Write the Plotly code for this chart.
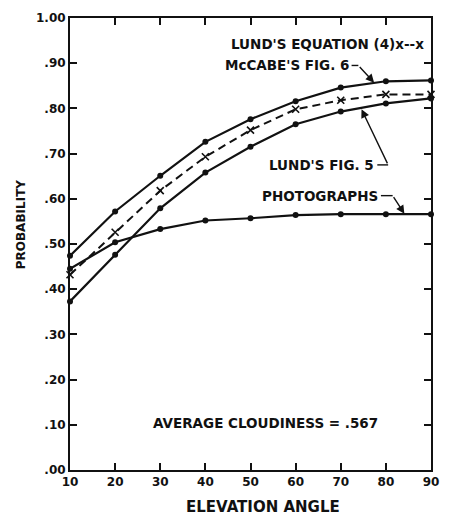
import plotly.graph_objects as go

# Data
elevation = [10, 20, 30, 40, 50, 60, 70, 80, 90]
mccabe_fig6 = [0.474, 0.572, 0.651, 0.726, 0.776, 0.816, 0.846, 0.860, 0.862]
lund_eq4 = [0.432, 0.526, 0.618, 0.693, 0.752, 0.798, 0.818, 0.831, 0.831]
lund_fig5 = [0.373, 0.476, 0.579, 0.658, 0.715, 0.765, 0.793, 0.811, 0.822]
photographs = [0.445, 0.504, 0.533, 0.552, 0.557, 0.564, 0.566, 0.566, 0.566]

x_ticks = [10, 20, 30, 40, 50, 60, 70, 80, 90]
y_ticks = [0.0, 0.1, 0.2, 0.3, 0.4, 0.5, 0.6, 0.7, 0.8, 0.9, 1.0]
y_ticktext = [".00", ".10", ".20", ".30", ".40", ".50", ".60", ".70", ".80", ".90", "1.00"]

FONT = "DejaVu Sans"
BLACK = "#111111"

fig = go.Figure()

def solid(name, ys):
    fig.add_trace(go.Scatter(
        x=elevation, y=ys, name=name, mode="lines+markers",
        line=dict(color=BLACK, width=2.2),
        marker=dict(symbol="circle", size=6, color=BLACK),
        cliponaxis=False, showlegend=False))

solid("McCABE'S FIG. 6", mccabe_fig6)
fig.add_trace(go.Scatter(
    x=elevation, y=lund_eq4, name="LUND'S EQUATION (4)", mode="lines+markers",
    line=dict(color=BLACK, width=2, dash="8px,5px"),
    marker=dict(symbol="x-thin", size=7, color=BLACK, line=dict(width=1.6, color=BLACK)),
    cliponaxis=False, showlegend=False))
solid("LUND'S FIG. 5", lund_fig5)
solid("PHOTOGRAPHS", photographs)

tf = dict(family=FONT, size=13.5, color=BLACK, weight="bold")

def label(text, x, y, anchor="left"):
    fig.add_annotation(x=x, y=y, xref="x", yref="y", text=text, showarrow=False,
                       xanchor=anchor, yanchor="middle", font=tf)

def hook(x0, x1, y, hx, hy):
    fig.add_shape(type="line", xref="x", yref="y", x0=x0, x1=x1, y0=y, y1=y,
                  line=dict(color=BLACK, width=1.4))
    fig.add_annotation(x=hx, y=hy, xref="x", yref="y", ax=x1, ay=y, axref="x", ayref="y",
                       text="", showarrow=True, arrowhead=2, arrowsize=1.2,
                       arrowwidth=1.4, arrowcolor=BLACK)

label("LUND'S EQUATION (4)x--x", 45.3, 0.943)
label("McCABE'S FIG. 6", 72.2, 0.895, "right")
hook(72.4, 73.9, 0.895, 77.4, 0.857)
label("LUND'S FIG. 5", 77.9, 0.675, "right")
hook(78.1, 80.5, 0.675, 74.6, 0.798)
label("PHOTOGRAPHS", 78.7, 0.607, "right")
hook(78.9, 81.5, 0.607, 84.1, 0.567)
label("AVERAGE CLOUDINESS = .567", 28.0, 0.105)

axis_common = dict(showline=True, linecolor=BLACK, linewidth=2, mirror="allticks",
                   ticks="inside", ticklen=7, tickwidth=1.5, tickcolor=BLACK,
                   showgrid=False, zeroline=False,
                   tickfont=dict(family=FONT, size=12, color=BLACK, weight="bold"))

fig.update_xaxes(range=[10, 90], tickvals=x_ticks, ticktext=[str(v) for v in x_ticks],
                 **axis_common)
fig.update_yaxes(range=[0, 1], tickvals=y_ticks, ticktext=y_ticktext, **axis_common)

# axis titles placed as annotations to match the reference positions
fig.add_annotation(x=(267 - 70) / 369, y=(470 - 507) / 456, xref="paper", yref="paper",
                   text="ELEVATION ANGLE", showarrow=False,
                   font=dict(family=FONT, size=15, color=BLACK, weight="bold"),
                   xanchor="center", yanchor="middle")
fig.add_annotation(x=(20 - 70) / 369, y=(470 - 222) / 456, xref="paper", yref="paper",
                   text="PROBABILITY", showarrow=False, textangle=-90,
                   font=dict(family=FONT, size=12, color=BLACK, weight="bold"),
                   xanchor="center", yanchor="middle")

fig.update_layout(width=450, height=519, margin=dict(l=70, r=11, t=14, b=49),
                  plot_bgcolor="white", paper_bgcolor="white", showlegend=False)

fig.write_html("out.html")
